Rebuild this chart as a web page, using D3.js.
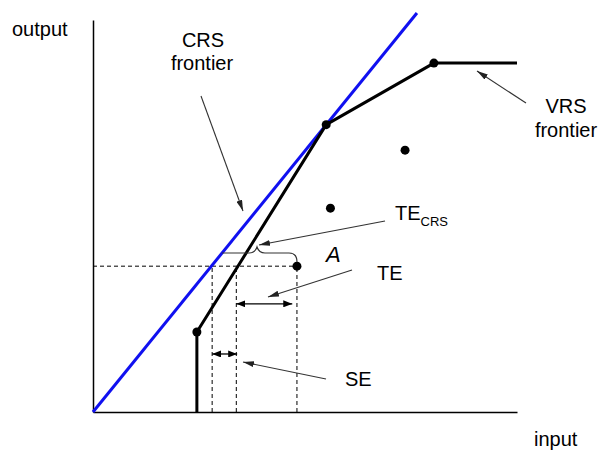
<!DOCTYPE html>
<html><head><meta charset="utf-8">
<script src="https://cdn.jsdelivr.net/npm/d3@7"></script>
<style>
html,body{margin:0;padding:0;background:#fff;}
svg{display:block;font-family:"Liberation Sans",Arial,sans-serif;}
</style></head>
<body>
<script>
// ---- data (in chart units) ----
const vrsFrontier = [[2.45,0],[2.45,2.04],[5.50,7.33],[8.04,8.90],[10,8.90]];
const vrsDots = [[2.45,2.04],[5.50,7.33],[8.04,8.90]];
const crsFrontier = [[0,0],[7.64,10.18]];
const otherDots = [[7.36,6.68],[5.60,5.20]];
const pointA = [4.81,3.72];
const dashX = [2.81,3.38,4.81];
const teArrow = [[3.38,2.76],[4.70,2.76]];
const seArrow = [[2.81,1.48],[3.40,1.48]];
const xDomain = [0,10], yDomain = [0,10];
const labels = {y:"output", x:"input", crs:["CRS","frontier"], vrs:["VRS","frontier"], a:"A", te:"TE", se:"SE", tecrs:["TE","CRS"]};

const W=600,H=452;
const svg=d3.select("body").append("svg").attr("width",W).attr("height",H);
const x=d3.scaleLinear().domain(xDomain).range([93,517]);
const y=d3.scaleLinear().domain(yDomain).range([412,20]);

const defs=svg.append("defs");
function marker(id,color,len,wid){
  defs.append("marker").attr("id",id).attr("viewBox",`0 0 ${len} ${wid}`)
    .attr("refX",len).attr("refY",wid/2).attr("markerWidth",len).attr("markerHeight",wid)
    .attr("markerUnits","userSpaceOnUse").attr("orient","auto-start-reverse")
    .append("path").attr("d",`M0,0L${len},${wid/2}L0,${wid}z`).attr("fill",color);
}
marker("ah","#222",11,6);
marker("dh","#000",9,7);

// axes (no ticks)
const xAxis=d3.axisBottom(x).tickValues([]).tickSizeOuter(0);
const yAxis=d3.axisLeft(y).tickValues([]).tickSizeOuter(0);
svg.append("g").attr("transform",`translate(0,${y(0)})`).call(xAxis)
  .select(".domain").attr("stroke","#000").attr("stroke-width",1.5);
svg.append("g").attr("transform",`translate(${x(0)},0)`).call(yAxis)
  .select(".domain").attr("stroke","#000").attr("stroke-width",1.5);

const line=d3.line().x(d=>x(d[0])).y(d=>y(d[1]));

// dashed guides
svg.append("path").attr("d",line([[0,pointA[1]],pointA])).attr("stroke","#000")
  .attr("stroke-width",1).attr("stroke-dasharray","4,3").attr("fill","none");
dashX.forEach(v=>{
  svg.append("path").attr("d",line([[v,0],[v,pointA[1]]])).attr("stroke","#000")
    .attr("stroke-width",1).attr("stroke-dasharray","4,3").attr("fill","none");
});

// frontiers
svg.append("path").attr("d",line(crsFrontier)).attr("stroke","#1010f0").attr("stroke-width",3).attr("fill","none");
svg.append("path").attr("d",line(vrsFrontier)).attr("stroke","#000").attr("stroke-width",3)
  .attr("stroke-linejoin","round").attr("fill","none");

// dots
svg.selectAll("circle.d").data(vrsDots.concat(otherDots,[pointA])).join("circle")
  .attr("cx",d=>x(d[0])).attr("cy",d=>y(d[1])).attr("r",4.5).attr("fill","#000");

// double arrows
[teArrow,seArrow].forEach(a=>{
  svg.append("path").attr("d",line(a)).attr("stroke","#000").attr("stroke-width",1.3)
    .attr("marker-start","url(#dh)").attr("marker-end","url(#dh)").attr("fill","none");
});

// brace (TE_CRS)
const bx0=222,bx1=297,by=253,tipX=257;
svg.append("path").attr("d",
  `M${bx0},${by} L${tipX-8},${by} Q${tipX-2},${by} ${tipX},${by-6} Q${tipX+2},${by} ${tipX+8},${by} L${bx1-8},${by} Q${bx1},${by} ${bx1},${by+9}`)
  .attr("stroke","#333").attr("stroke-width",1.2).attr("fill","none");

// annotation arrows
function arrow(x1,y1,x2,y2){
  svg.append("line").attr("x1",x1).attr("y1",y1).attr("x2",x2).attr("y2",y2)
    .attr("stroke","#333").attr("stroke-width",1.1).attr("marker-end","url(#ah)");
}
arrow(201,96,243,211);
arrow(526,103,477,71);
arrow(385,221,259,245);
arrow(352,270,268,297);
arrow(326,379,243,362);

// text
const fs=20;
function txt(t,xp,yp,anchor,style,size){
  const e=svg.append("text").attr("x",xp).attr("y",yp).attr("font-size",size||fs)
    .attr("text-anchor",anchor||"start").attr("fill","#000").text(t);
  if(style) e.attr("font-style",style);
  return e;
}
txt(labels.y,12,36);
txt(labels.x,534,446);
txt(labels.crs[0],203,47,"middle");
txt(labels.crs[1],202,70,"middle");
txt(labels.vrs[0],566,113,"middle");
txt(labels.vrs[1],566,137,"middle");
txt(labels.a,326,262,"start","italic",22);
txt(labels.te,377,280);
txt(labels.se,345,386);
const tc=svg.append("text").attr("x",395).attr("y",220).attr("font-size",fs).attr("fill","#000");
tc.append("tspan").text(labels.tecrs[0]);
tc.append("tspan").attr("font-size",13).attr("dy",6).text(labels.tecrs[1]);
</script>
</body></html>
